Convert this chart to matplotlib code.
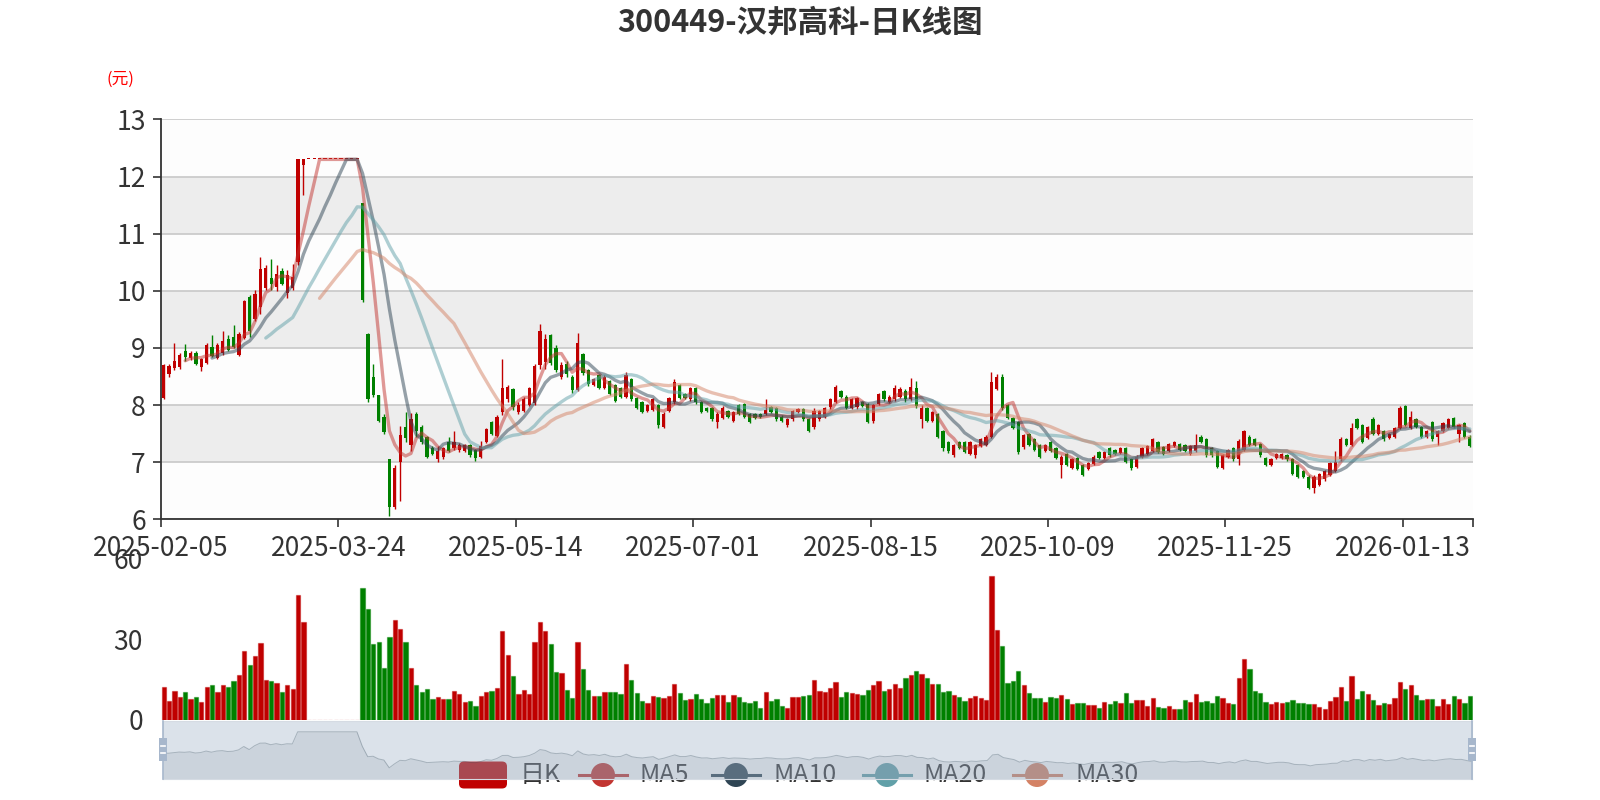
import numpy as np
import pandas as pd
import matplotlib
matplotlib.use('Agg')
import matplotlib.pyplot as plt
from matplotlib.patches import FancyBboxPatch, Circle, Rectangle

plt.rcParams['font.family'] = ['Noto Sans CJK SC', 'DejaVu Sans']

title = '300449-汉邦高科-日K线图'
unit_label = '(元)'
legend_names = ['日K', 'MA5', 'MA10', 'MA20', 'MA30']
ma_windows = [5, 10, 20, 30]

# trading calendar (weekdays minus exchange holidays)
holidays = ['2025-04-04', '2025-05-01', '2025-05-02', '2025-05-05', '2025-06-02',
            '2025-10-01', '2025-10-02', '2025-10-03', '2025-10-06', '2025-10-07',
            '2025-10-08', '2026-01-01', '2026-01-02']
days = pd.bdate_range('2025-02-05', '2026-01-29')
days = days[~days.isin(pd.to_datetime(holidays))]
dates = [d.strftime('%Y-%m-%d') for d in days]

opens = [
    8.12, 8.55, 8.65, 8.66, 8.95, 8.82, 8.92, 8.66, 8.73, 9.02,
    8.82, 8.92, 9.15, 9.20, 8.88, 9.18, 9.90, 9.50, 9.72, 10.05,
    10.22, 10.06, 10.35, 9.96, 10.05, 10.50, 12.20, 12.30, 12.30, 12.30,
    12.30, 12.30, 12.30, 12.30, 12.30, 12.30, 12.30, 11.54, 9.25, 8.50,
    8.17, 7.80, 7.05, 6.22, 7.00, 7.62, 7.30, 7.85, 7.62, 7.44,
    7.25, 7.05, 7.10, 7.35, 7.25, 7.22, 7.20, 7.30, 7.22, 7.10,
    7.35, 7.70, 7.46, 7.88, 8.10, 8.28, 7.88, 7.90, 8.00, 8.03,
    8.70, 8.75, 9.22, 9.00, 8.50, 8.72, 8.50, 8.26, 8.90, 8.62,
    8.36, 8.52, 8.30, 8.42, 8.35, 8.30, 8.15, 8.45, 8.12, 8.05,
    7.90, 7.92, 8.00, 7.62, 7.90, 8.05, 8.35, 8.20, 8.10, 8.30,
    8.05, 7.95, 7.95, 7.70, 7.78, 7.90, 7.72, 8.00, 8.02, 7.85,
    7.85, 7.84, 7.85, 7.97, 7.95, 7.80, 7.65, 7.75, 7.88, 7.93,
    7.75, 7.62, 7.75, 7.80, 7.96, 8.05, 8.25, 8.15, 7.95, 7.96,
    8.05, 8.02, 7.72, 8.02, 8.25, 8.05, 8.10, 8.15, 8.25, 8.10,
    8.30, 7.75, 7.95, 7.72, 7.85, 7.55, 7.35, 7.12, 7.35, 7.35,
    7.15, 7.12, 7.28, 7.30, 7.45, 8.28, 8.50, 8.00, 7.78, 7.70,
    7.26, 7.50, 7.40, 7.30, 7.20, 7.35, 7.25, 6.95, 7.15, 6.90,
    7.08, 6.95, 6.88, 6.97, 7.18, 7.08, 7.25, 7.22, 7.17, 7.25,
    7.05, 6.92, 7.10, 7.15, 7.20, 7.35, 7.27, 7.20, 7.28, 7.32,
    7.30, 7.15, 7.20, 7.45, 7.40, 7.25, 7.20, 6.90, 7.10, 7.25,
    7.05, 7.22, 7.45, 7.40, 7.32, 7.08, 6.95, 7.08, 7.08, 7.12,
    7.05, 6.95, 6.85, 6.75, 6.55, 6.60, 6.70, 6.78, 6.85, 7.05,
    7.40, 7.30, 7.75, 7.65, 7.42, 7.75, 7.50, 7.55, 7.42, 7.45,
    7.60, 7.98, 7.60, 7.75, 7.62, 7.45, 7.70, 7.45, 7.55, 7.60,
    7.78, 7.50, 7.68, 7.45]

closes = [
    8.70, 8.68, 8.78, 8.88, 8.84, 8.92, 8.72, 8.80, 9.05, 8.86,
    9.06, 9.12, 8.97, 9.02, 9.24, 9.82, 9.30, 9.95, 10.38, 10.40,
    10.12, 10.30, 10.12, 10.28, 10.25, 12.30, 12.30, 12.30, 12.30, 12.30,
    12.30, 12.30, 12.30, 12.30, 12.30, 12.30, 12.30, 9.84, 8.10, 8.17,
    7.72, 7.53, 6.22, 6.90, 7.48, 7.42, 7.75, 7.55, 7.35, 7.10,
    7.15, 7.20, 7.25, 7.20, 7.35, 7.30, 7.30, 7.12, 7.08, 7.28,
    7.58, 7.50, 7.80, 8.30, 8.32, 7.96, 8.00, 8.10, 8.30, 8.69,
    9.30, 9.15, 8.74, 8.62, 8.70, 8.55, 8.26, 9.08, 8.56, 8.37,
    8.45, 8.30, 8.50, 8.20, 8.08, 8.15, 8.52, 8.10, 7.95, 7.88,
    8.00, 8.10, 7.65, 7.85, 8.12, 8.40, 8.12, 8.12, 8.30, 8.05,
    7.88, 7.90, 7.75, 7.85, 7.95, 7.80, 7.88, 7.85, 7.80, 7.70,
    7.78, 7.80, 7.92, 7.88, 7.75, 7.72, 7.75, 7.90, 7.93, 7.75,
    7.55, 7.90, 7.90, 7.95, 8.10, 8.32, 8.15, 7.95, 8.10, 8.12,
    7.98, 7.70, 8.00, 8.20, 8.10, 8.15, 8.30, 8.28, 8.10, 8.32,
    7.98, 7.95, 7.72, 7.88, 7.45, 7.25, 7.20, 7.30, 7.25, 7.18,
    7.35, 7.30, 7.40, 7.45, 8.40, 8.50, 7.95, 7.78, 7.60, 7.18,
    7.48, 7.30, 7.22, 7.10, 7.30, 7.20, 7.08, 7.10, 6.95, 7.05,
    6.88, 6.78, 6.98, 7.10, 7.08, 7.18, 7.12, 7.15, 7.25, 7.00,
    6.90, 7.10, 7.25, 7.28, 7.40, 7.18, 7.15, 7.32, 7.35, 7.22,
    7.20, 7.28, 7.30, 7.35, 7.12, 7.12, 6.92, 7.12, 7.22, 7.05,
    7.38, 7.55, 7.30, 7.30, 7.12, 6.95, 7.05, 7.15, 7.15, 7.05,
    6.80, 6.75, 6.75, 6.55, 6.75, 6.80, 6.85, 6.98, 7.00, 7.40,
    7.30, 7.60, 7.60, 7.35, 7.62, 7.50, 7.65, 7.40, 7.50, 7.60,
    7.95, 7.65, 7.80, 7.62, 7.45, 7.55, 7.40, 7.55, 7.68, 7.75,
    7.62, 7.65, 7.45, 7.28]

highs = [
    8.72, 8.72, 9.08, 8.92, 9.07, 8.94, 8.95, 8.82, 9.08, 9.23,
    9.08, 9.30, 9.23, 9.40, 9.28, 9.84, 9.92, 10.02, 10.60, 10.45,
    10.55, 10.46, 10.40, 10.36, 10.47, 12.30, 12.30, 12.30, 12.30, 12.30,
    12.30, 12.30, 12.30, 12.30, 12.30, 12.30, 12.30, 11.54, 9.27, 8.72,
    8.18, 7.85, 7.06, 6.95, 7.64, 7.88, 7.87, 7.88, 7.65, 7.46,
    7.28, 7.29, 7.27, 7.45, 7.55, 7.33, 7.32, 7.32, 7.24, 7.38,
    7.60, 7.72, 7.82, 8.80, 8.36, 8.30, 8.05, 8.15, 8.32, 8.72,
    9.42, 9.25, 9.25, 9.05, 8.75, 8.78, 8.52, 9.27, 8.92, 8.64,
    8.48, 8.54, 8.52, 8.44, 8.37, 8.32, 8.58, 8.47, 8.14, 8.07,
    8.02, 8.12, 8.02, 7.88, 8.14, 8.45, 8.37, 8.22, 8.32, 8.32,
    8.07, 7.97, 7.97, 7.88, 7.98, 7.92, 7.90, 8.02, 8.04, 7.87,
    7.87, 7.86, 8.10, 7.99, 7.97, 7.82, 7.77, 7.92, 7.95, 7.95,
    7.77, 7.95, 7.92, 7.97, 8.12, 8.35, 8.27, 8.17, 8.12, 8.14,
    8.07, 8.04, 8.02, 8.22, 8.27, 8.18, 8.35, 8.32, 8.28, 8.47,
    8.42, 8.00, 7.97, 7.90, 7.87, 7.57, 7.37, 7.32, 7.37, 7.37,
    7.37, 7.32, 7.42, 7.47, 8.58, 8.55, 8.55, 8.02, 7.80, 7.72,
    7.50, 7.52, 7.42, 7.32, 7.32, 7.37, 7.27, 7.12, 7.17, 7.07,
    7.10, 6.97, 7.00, 7.12, 7.20, 7.20, 7.27, 7.24, 7.27, 7.27,
    7.07, 7.12, 7.27, 7.30, 7.42, 7.37, 7.29, 7.34, 7.37, 7.34,
    7.32, 7.30, 7.50, 7.47, 7.42, 7.27, 7.22, 7.14, 7.24, 7.27,
    7.40, 7.57, 7.47, 7.42, 7.34, 7.10, 7.07, 7.17, 7.17, 7.14,
    7.07, 6.97, 6.87, 6.77, 6.77, 6.82, 6.87, 7.00, 7.20, 7.45,
    7.42, 7.68, 7.77, 7.67, 7.64, 7.80, 7.67, 7.57, 7.52, 7.62,
    7.98, 8.00, 7.90, 7.77, 7.64, 7.57, 7.72, 7.57, 7.70, 7.77,
    7.80, 7.67, 7.70, 7.47]

lows = [
    8.10, 8.50, 8.62, 8.64, 8.78, 8.79, 8.70, 8.60, 8.72, 8.84,
    8.80, 8.88, 8.94, 9.00, 8.86, 9.15, 9.20, 9.48, 9.60, 10.02,
    10.02, 10.00, 10.10, 9.87, 10.02, 10.45, 11.67, 12.30, 12.30, 12.30,
    12.30, 12.30, 12.30, 12.30, 12.30, 12.30, 12.30, 9.80, 8.05, 8.15,
    7.70, 7.50, 6.06, 6.18, 6.33, 7.35, 7.19, 7.45, 7.32, 7.08,
    7.12, 7.00, 7.05, 7.18, 7.22, 7.18, 7.18, 7.10, 7.03, 7.08,
    7.33, 7.48, 7.44, 7.82, 8.05, 7.92, 7.84, 7.88, 7.98, 8.00,
    8.64, 8.64, 8.70, 8.58, 8.45, 8.50, 8.22, 8.24, 8.52, 8.34,
    8.33, 8.28, 8.28, 8.18, 8.06, 8.12, 8.12, 8.08, 7.93, 7.86,
    7.88, 7.90, 7.60, 7.60, 7.88, 8.02, 8.10, 8.10, 8.08, 8.02,
    7.86, 7.88, 7.72, 7.60, 7.76, 7.78, 7.70, 7.83, 7.78, 7.68,
    7.76, 7.78, 7.83, 7.86, 7.73, 7.70, 7.62, 7.73, 7.86, 7.73,
    7.53, 7.58, 7.73, 7.78, 7.94, 8.03, 8.13, 7.93, 7.93, 7.93,
    7.96, 7.68, 7.68, 8.00, 8.08, 8.03, 8.08, 8.13, 8.05, 8.08,
    7.95, 7.60, 7.70, 7.70, 7.43, 7.20, 7.16, 7.10, 7.23, 7.16,
    7.13, 7.08, 7.26, 7.28, 7.42, 8.26, 7.92, 7.75, 7.58, 7.15,
    7.24, 7.28, 7.20, 7.08, 7.18, 7.18, 7.06, 6.72, 6.93, 6.88,
    6.86, 6.76, 6.86, 6.95, 7.06, 7.06, 7.10, 7.13, 7.15, 6.98,
    6.86, 6.90, 7.08, 7.13, 7.18, 7.16, 7.13, 7.18, 7.26, 7.20,
    7.18, 7.13, 7.18, 7.33, 7.10, 7.10, 6.90, 6.88, 7.08, 7.03,
    6.95, 7.20, 7.28, 7.28, 7.10, 6.93, 6.93, 7.06, 7.06, 7.03,
    6.78, 6.73, 6.73, 6.53, 6.47, 6.58, 6.68, 6.76, 6.83, 7.03,
    7.28, 7.28, 7.58, 7.33, 7.40, 7.48, 7.48, 7.38, 7.40, 7.43,
    7.58, 7.63, 7.58, 7.60, 7.43, 7.43, 7.38, 7.30, 7.53, 7.58,
    7.60, 7.35, 7.43, 7.26]

volumes = [
    12.1, 7.2, 10.6, 8.4, 10.2, 7.7, 8.5, 6.6, 12.2, 13.1,
    10.4, 12.8, 12.2, 14.4, 16.7, 25.6, 20.4, 23.6, 28.4, 14.7,
    14.5, 13.6, 10.2, 13.0, 11.5, 46.4, 36.5, 0, 0, 0,
    0, 0, 0, 0, 0, 0, 0, 49.1, 41.1, 28.0,
    28.9, 19.4, 30.7, 36.9, 33.6, 28.9, 19.4, 13.1, 10.5, 11.5,
    7.9, 8.5, 7.7, 7.8, 10.6, 9.5, 6.6, 6.9, 5.3, 8.8,
    10.2, 10.6, 11.8, 33.1, 24.0, 16.2, 9.6, 11.1, 9.6, 28.9,
    36.5, 33.0, 28.1, 17.8, 17.3, 11.1, 8.3, 29.1, 19.0, 11.1,
    8.9, 8.9, 10.4, 10.5, 10.4, 9.5, 20.6, 14.8, 10.0, 6.9,
    6.2, 8.9, 8.5, 8.0, 8.8, 13.4, 9.9, 7.4, 7.7, 9.7,
    7.7, 6.3, 8.0, 9.4, 9.4, 6.6, 9.1, 8.5, 6.6, 6.4,
    7.2, 4.4, 10.4, 6.9, 7.8, 5.2, 4.4, 8.6, 8.6, 8.9,
    9.1, 14.7, 10.8, 10.3, 11.9, 14.0, 8.6, 10.3, 9.9, 9.6,
    9.3, 11.1, 12.9, 14.3, 10.8, 11.5, 13.2, 11.9, 15.6, 16.8,
    18.0, 17.2, 15.6, 13.3, 13.3, 10.4, 10.9, 9.1, 8.6, 6.9,
    8.1, 8.8, 8.1, 7.4, 53.5, 33.3, 27.3, 13.6, 14.4, 18.2,
    13.1, 9.9, 8.1, 8.0, 6.6, 8.5, 8.1, 9.3, 7.8, 6.0,
    6.3, 6.3, 5.6, 5.6, 4.5, 6.6, 5.8, 7.0, 6.3, 9.9,
    6.3, 7.3, 7.4, 5.2, 8.1, 4.8, 4.5, 5.2, 4.2, 4.2,
    7.3, 6.6, 9.8, 6.8, 7.2, 6.4, 8.9, 8.1, 6.4, 6.0,
    15.7, 22.7, 19.0, 10.6, 10.0, 6.7, 5.8, 6.7, 6.3, 6.7,
    7.4, 6.3, 6.2, 6.0, 5.8, 4.8, 4.2, 6.9, 8.6, 12.2,
    7.0, 16.2, 7.9, 10.7, 9.8, 7.4, 5.6, 6.2, 6.0, 8.1,
    14.0, 11.5, 12.9, 9.1, 7.5, 7.7, 7.7, 5.3, 7.7, 6.0,
    8.8, 7.9, 6.4, 8.8]

N = len(dates)
assert N == len(opens) == len(closes) == len(highs) == len(lows) == len(volumes)

RED = '#c00000'
GREEN = '#008000'
ma_colors = ['#c23531', '#2f4554', '#61a0a8', '#d48265']
TXT = '#333333'

o = np.array(opens)
c = np.array(closes)
h = np.array(highs)
l = np.array(lows)
x = np.arange(N)
up = c >= o
colors = np.where(up, RED, GREEN)

fig = plt.figure(figsize=(16, 8), dpi=100)
fig.patch.set_facecolor('white')

# ---- price panel
ax = fig.add_axes([161 / 1600, 1 - 519.4 / 800, 1311.5 / 1600, 400 / 800])
ax.set_xlim(-0.5, N - 0.5)
ax.set_ylim(6, 13)
for k, lo in enumerate(range(6, 13)):
    ax.axhspan(lo, lo + 1, color='#fdfdfd' if k % 2 == 0 else '#ededed', lw=0, zorder=0)
ax.set_yticks(range(6, 14))
ax.grid(axis='y', color='#c8c8c8', lw=1.2)
ax.set_axisbelow(True)

ax.vlines(x, l, h, colors=colors, lw=1.0, zorder=3)
body_bottom = np.minimum(o, c)
body_h = np.maximum(np.abs(c - o), 0.025)
ax.bar(x, body_h, bottom=body_bottom, width=0.62, color=colors, lw=0, zorder=4)

close_s = pd.Series(c)
for w, col in zip(ma_windows, ma_colors):
    ax.plot(x, close_s.rolling(w).mean(), color=col, lw=2.4, alpha=0.5,
            zorder=5, solid_capstyle='round', solid_joinstyle='round')

label_idx = list(range(0, N, 33))
ax.set_xticks([i - 0.5 for i in label_idx] + [N - 0.5])
ax.set_xticklabels([dates[i] for i in label_idx] + [''])
for s in ['top', 'right']:
    ax.spines[s].set_visible(False)
for s in ['left', 'bottom']:
    ax.spines[s].set_color(TXT)
    ax.spines[s].set_linewidth(1.3)
ax.tick_params(axis='both', length=6, width=1.2, color=TXT, labelsize=19,
               labelcolor=TXT, pad=5)

# ---- volume panel
vax = fig.add_axes([161 / 1600, 0.1, 1311.5 / 1600, 161.8 / 800])
vax.patch.set_alpha(0)
edge = [(0.75, 0.0, 0.0, 0.45) if u else (0.0, 0.5, 0.0, 0.45) for u in up]
vax.bar(x, volumes, width=0.78, color=colors, edgecolor=edge, lw=0.9)
vax.set_xlim(-0.5, N - 0.5)
vax.set_ylim(0, 60)
vax.set_yticks([0, 30, 60])
vax.set_xticks([])
for s in vax.spines.values():
    s.set_visible(False)
vax.tick_params(axis='y', length=0, labelsize=19, labelcolor=TXT, pad=13)

# ---- legend (sits under the slider)
lg = fig.add_axes([0, 0, 1, 1], zorder=1)
lg.set_xlim(0, 1600)
lg.set_ylim(800, 0)
lg.axis('off')
icon_x = [459, 579, 712, 863, 1013]
text_x = [520, 640, 773, 924, 1075]
ly = 775
lg.add_patch(FancyBboxPatch((icon_x[0], ly - 13.5), 48, 27,
                            boxstyle='round,pad=0,rounding_size=5', color=RED, lw=0))
for k in range(1, 5):
    col = ma_colors[k - 1]
    lg.plot([icon_x[k], icon_x[k] + 48], [ly, ly], color=col, lw=2.2)
    lg.add_patch(Circle((icon_x[k] + 24, ly), 12, color=col, lw=0))
for name, tx in zip(legend_names, text_x):
    lg.text(tx, ly, name, fontsize=18, color=TXT, va='center', ha='left')

# ---- data zoom slider
sl = fig.add_axes([163 / 1600, 1 - 778.6 / 800, 1309 / 1600, 57.6 / 800], zorder=2)
sl.set_facecolor((167 / 255, 183 / 255, 204 / 255, 0.4))
ext_lo, ext_hi = c.min(), c.max()
off = (ext_hi - ext_lo) * 0.3
sl.set_xlim(0, N - 1)
sl.set_ylim(ext_lo - off, ext_hi + off)
sl.fill_between(x, c, ext_lo - off, color='#2f4554', alpha=0.09, lw=0)
sl.plot(x, c, color='#2f4554', alpha=0.3, lw=0.7)
sl.set_xticks([])
sl.set_yticks([])
for s in sl.spines.values():
    s.set_color('#d5dbe3')
    s.set_linewidth(0.8)
hw = 8 / 1309
for hx in (0, 1):
    sl.plot([hx, hx], [0, 1], transform=sl.transAxes, color='#a7b7cc', lw=1.2,
            clip_on=False, zorder=6)
    sl.add_patch(Rectangle((hx - hw / 2, 0.3), hw, 0.41, transform=sl.transAxes,
                           color='#a7b7cc', lw=0, clip_on=False, zorder=7))
    for my in (0.45, 0.56):
        sl.plot([hx - hw * 0.3, hx + hw * 0.3], [my, my], transform=sl.transAxes,
                color='white', lw=1.2, clip_on=False, zorder=8)

# ---- titles
fig.text(0.5, 1 - 23 / 800, title, ha='center', va='center', fontsize=22,
         fontweight='bold', color=TXT)
fig.text(120 / 1600, 1 - 79 / 800, unit_label, ha='center', va='center',
         fontsize=12, color='red')

fig.savefig('out.png', dpi=100, facecolor='white')
